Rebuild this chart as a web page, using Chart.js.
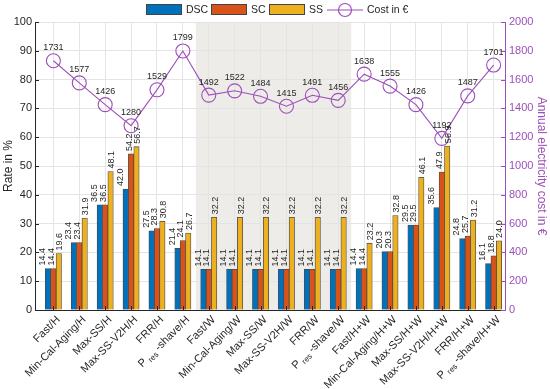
<!DOCTYPE html>
<html>
<head>
<meta charset="utf-8">
<script src="https://cdn.jsdelivr.net/npm/chart.js@4.4.0/dist/chart.umd.min.js"></script>
<style>
  html, body { margin: 0; padding: 0; background: #fff; }
  #wrap { width: 550px; height: 389px; position: relative; }
</style>
</head>
<body>
<div id="wrap"><canvas id="chart"></canvas></div>
<script>
// Werte
const categories = ['Fast/H', 'Min-Cal-Aging/H', 'Max-SS/H', 'Max-SS-V2H/H', 'FRR/H', 'P_res-shave/H',
  'Fast/W', 'Min-Cal-Aging/W', 'Max-SS/W', 'Max-SS-V2H/W', 'FRR/W', 'P_res-shave/W',
  'Fast/H+W', 'Min-Cal-Aging/H+W', 'Max-SS/H+W', 'Max-SS-V2H/H+W', 'FRR/H+W', 'P_res-shave/H+W'];
const dscValues = [14.4, 23.4, 36.5, 42.0, 27.5, 21.4, 14.1, 14.1, 14.1, 14.1, 14.1, 14.1, 14.4, 20.3, 29.5, 35.6, 24.8, 16.1];
const scValues  = [14.4, 23.4, 36.5, 54.2, 28.3, 24.1, 14.1, 14.1, 14.1, 14.1, 14.1, 14.1, 14.4, 20.3, 29.5, 47.9, 25.7, 18.8];
const ssValues  = [19.6, 31.9, 48.1, 56.7, 30.8, 26.7, 32.2, 32.2, 32.2, 32.2, 32.2, 32.2, 23.2, 32.8, 46.1, 56.9, 31.2, 24.0];
const costValues = [1731, 1577, 1426, 1280, 1529, 1799, 1492, 1522, 1484, 1415, 1491, 1456, 1638, 1555, 1426, 1192, 1487, 1701];
const shadedCategories = ['Fast/W', 'P_res-shave/W']; // erster und letzter grau hinterlegter Fall

const FONT = "'Liberation Sans', Arial, Helvetica, sans-serif";
const DARK = '#262626';
const PURPLE = '#9d4fb9';
const barColors = ['#0072bd', '#d95319', '#edb120'];
const labelOffsets = [-5.3, -2, 1]; // Wertebeschriftung relativ zur Balkenmitte

Chart.defaults.font.family = FONT;
Chart.defaults.color = DARK;

const toPoints = (arr) => arr.map((v, i) => ({ x: i + 1, y: v }));

// grau hinterlegter Bereich
const shadePlugin = {
  id: 'shade',
  beforeDraw(chart) {
    const { ctx, chartArea, scales } = chart;
    const a = categories.indexOf(shadedCategories[0]) + 0.5;
    const b = categories.indexOf(shadedCategories[1]) + 1.5;
    ctx.save();
    ctx.fillStyle = '#edece8';
    const x1 = scales.x.getPixelForValue(a), x2 = scales.x.getPixelForValue(b);
    ctx.fillRect(x1, chartArea.top, x2 - x1, chartArea.bottom - chartArea.top);
    ctx.restore();
  }
};

function drawCategoryLabel(ctx, text, x, y) {
  ctx.save();
  ctx.translate(x, y);
  ctx.rotate(-Math.PI / 4);
  ctx.textBaseline = 'middle';
  ctx.textAlign = 'left';
  ctx.fillStyle = DARK;
  const main = '11px ' + FONT, sub = '8px ' + FONT;
  if (text.startsWith('P_res')) {
    const rest = text.slice(5);
    ctx.font = main;
    const wP = ctx.measureText('P').width, wRest = ctx.measureText(rest).width;
    ctx.font = sub;
    const wSub = ctx.measureText('res').width;
    const gap = 2.5;
    let cx = -(wP + gap + wSub + gap + wRest);
    ctx.font = main; ctx.fillText('P', cx, 0); cx += wP + gap;
    ctx.font = sub; ctx.fillText('res', cx, 3.5); cx += wSub + gap;
    ctx.font = main; ctx.fillText(rest, cx, 0);
  } else {
    ctx.font = main;
    ctx.textAlign = 'right';
    ctx.fillText(text, 0, 0);
  }
  ctx.restore();
}

const annotatePlugin = {
  id: 'annotate',
  afterDraw(chart) {
    const { ctx, chartArea, scales } = chart;
    ctx.save();

    // Ticks nach innen
    ctx.lineWidth = 1;
    ctx.strokeStyle = DARK;
    scales.y.ticks.forEach(t => {
      const y = Math.round(scales.y.getPixelForValue(t.value)) + 0.5;
      ctx.beginPath(); ctx.moveTo(chartArea.left, y); ctx.lineTo(chartArea.left + 4, y); ctx.stroke();
    });
    categories.forEach((_, i) => {
      const x = Math.round(scales.x.getPixelForValue(i + 1)) + 0.5;
      ctx.beginPath(); ctx.moveTo(x, chartArea.bottom); ctx.lineTo(x, chartArea.bottom - 4); ctx.stroke();
    });
    ctx.strokeStyle = PURPLE;
    scales.y2.ticks.forEach(t => {
      const y = Math.round(scales.y2.getPixelForValue(t.value)) + 0.5;
      ctx.beginPath(); ctx.moveTo(chartArea.right, y); ctx.lineTo(chartArea.right - 4, y); ctx.stroke();
    });

    // Wertebeschriftung der Balken
    ctx.fillStyle = DARK;
    ctx.font = '9px ' + FONT;
    [1, 2, 3].forEach((d, k) => {
      const meta = chart.getDatasetMeta(d);
      meta.data.forEach((bar, i) => {
        const v = chart.data.datasets[d].data[i].y;
        ctx.save();
        ctx.translate(bar.x + labelOffsets[k], bar.y - 3);
        ctx.rotate(-Math.PI / 2);
        ctx.textAlign = 'left';
        ctx.textBaseline = 'middle';
        ctx.fillText(v.toFixed(1), 0, 0);
        ctx.restore();
      });
    });

    // Kostenbeschriftung
    const lineMeta = chart.getDatasetMeta(0);
    ctx.textAlign = 'center';
    ctx.textBaseline = 'middle';
    lineMeta.data.forEach((pt, i) => {
      ctx.fillText(String(costValues[i]), pt.x, pt.y - 13);
    });

    // Kategorien
    categories.forEach((c, i) => {
      drawCategoryLabel(ctx, c, scales.x.getPixelForValue(i + 1) + 5, chartArea.bottom + 8);
    });

    // Legende
    const names = ['DSC', 'SC', 'SS'];
    const boxX = [146, 211, 269];
    ctx.font = '10.5px ' + FONT;
    ctx.textAlign = 'left';
    names.forEach((n, k) => {
      ctx.fillStyle = barColors[k];
      ctx.fillRect(boxX[k], 4, 36, 11);
      ctx.strokeStyle = '#444';
      ctx.strokeRect(boxX[k] + 0.5, 4.5, 35, 10);
      ctx.fillStyle = DARK;
      ctx.fillText(n, boxX[k] + 40, 10);
    });
    ctx.strokeStyle = PURPLE;
    ctx.lineWidth = 1.2;
    ctx.beginPath(); ctx.moveTo(327, 10); ctx.lineTo(363, 10); ctx.stroke();
    ctx.beginPath(); ctx.arc(345, 10, 6.5, 0, Math.PI * 2); ctx.stroke();
    ctx.fillStyle = DARK;
    ctx.fillText('Cost in €', 367, 10);

    ctx.restore();
  }
};

const barDataset = (label, values, color) => ({
  type: 'bar',
  label,
  data: toPoints(values),
  backgroundColor: color,
  borderColor: '#4a4a4a',
  borderWidth: 0.8,
  barThickness: 5.4,
  yAxisID: 'y',
  order: 2
});

new Chart(document.getElementById('chart'), {
  type: 'bar',
  data: {
    datasets: [
      {
        type: 'line',
        label: 'Cost in €',
        data: toPoints(costValues),
        yAxisID: 'y2',
        borderColor: PURPLE,
        borderWidth: 1.1,
        pointRadius: 7,
        pointBorderWidth: 1.1,
        pointBackgroundColor: 'rgba(0,0,0,0)',
        pointBorderColor: PURPLE,
        tension: 0,
        order: 1
      },
      barDataset('DSC', dscValues, barColors[0]),
      barDataset('SC', scValues, barColors[1]),
      barDataset('SS', ssValues, barColors[2])
    ]
  },
  options: {
    responsive: true,
    maintainAspectRatio: false,
    animation: false,
    layout: { padding: { top: 22, left: 0, right: 0, bottom: 0 } },
    plugins: { legend: { display: false }, tooltip: { enabled: false } },
    scales: {
      x: {
        type: 'linear',
        min: 0.29,
        max: 18.44,
        offset: false,
        afterBuildTicks: (s) => { s.ticks = categories.map((_, i) => ({ value: i + 1 })); },
        afterFit: (s) => { s.height = 79; },
        ticks: { display: false },
        grid: { color: '#e4e4e4', drawTicks: false, offset: false },
        border: { color: DARK }
      },
      y: {
        position: 'left',
        min: 0,
        max: 100,
        afterFit: (s) => { s.width = 35; },
        ticks: { stepSize: 10, color: DARK, font: { size: 11 }, padding: 3 },
        grid: { color: '#e4e4e4', drawTicks: false },
        border: { color: DARK },
        title: { display: true, text: 'Rate in %', color: DARK, font: { size: 12 }, padding: { top: 1, bottom: 0 } }
      },
      y2: {
        position: 'right',
        min: 0,
        max: 2000,
        afterFit: (s) => { s.width = 45; },
        ticks: { stepSize: 200, color: PURPLE, font: { size: 11 }, padding: 4, callback: (v) => String(v) },
        grid: { drawOnChartArea: false, drawTicks: false },
        border: { color: PURPLE },
        title: { display: true, text: 'Annual electricity cost in €', color: PURPLE, font: { size: 12 }, padding: { top: 1, bottom: 0 } }
      }
    }
  },
  plugins: [shadePlugin, annotatePlugin]
});
</script>
</body>
</html>
